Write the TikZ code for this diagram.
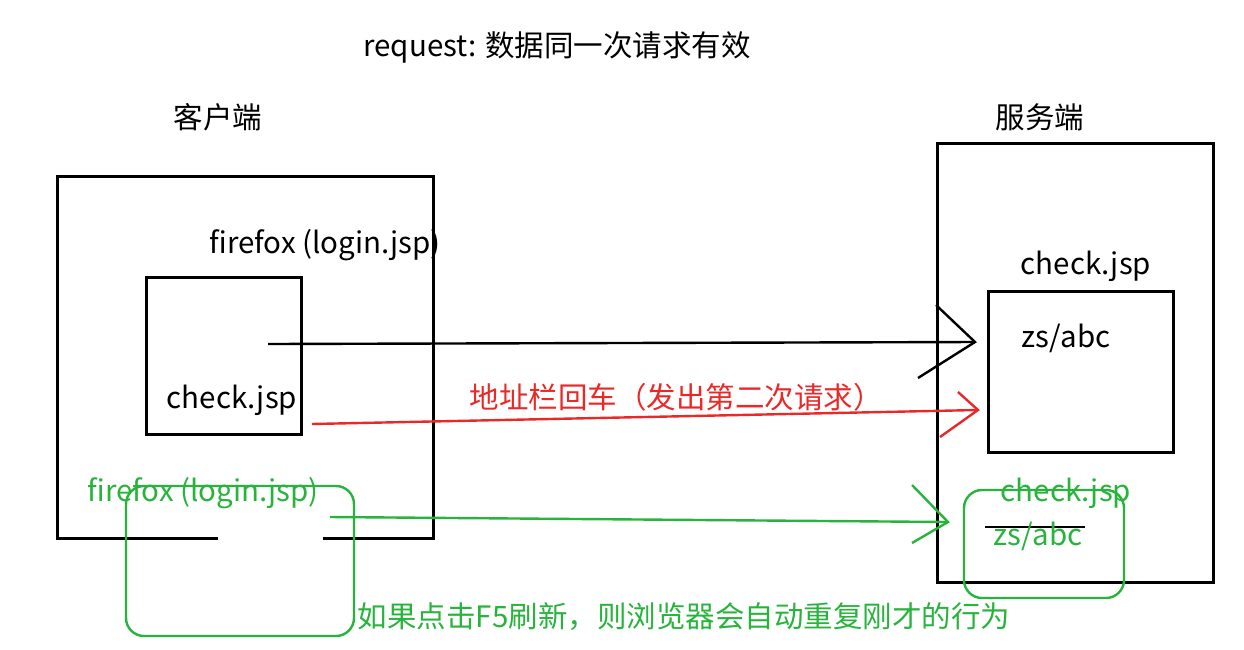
\documentclass[tikz,border=0pt]{standalone}
\usepackage{fontspec}
\setmainfont{Noto Sans CJK SC}
\definecolor{gr}{RGB}{40,180,60}
\definecolor{rd}{RGB}{235,40,40}
\begin{document}
\begin{tikzpicture}[x=1pt,y=-1pt,
  t/.style={font=\fontsize{29.5}{33}\selectfont,inner sep=0pt},
  bx/.style={line width=3pt},
  ln/.style={line width=2.4pt}]
\useasboundingbox (0,0) rectangle (1244,649);
\node[t] (title) at (557,47) {request: 数据同一次请求有效};
\node[t] (cl) at (218,117) {客户端};
\node[t] (sv) at (1040,117) {服务端};
% left box
\draw[bx] (218,538) -- (57,538) -- (57,176) -- (433,176) -- (433,538) -- (323,538);
\node[t] (ff1) at (325,245) {firefox (login.jsp)};
\draw[bx] (146,277) rectangle (301,434);
\node[t] (cj1) at (232,400) {check.jsp};
% right box
\draw[bx] (937,143) rectangle (1213,582);
\node[t] (cj2) at (1086,266) {check.jsp};
\draw[bx] (988,291) rectangle (1173,452);
\node[t] (zs1) at (1066,338) {zs/abc};
% black arrow
\coordinate (a1) at (268,344); \coordinate (a2) at (975,342);
\draw[ln] (a1) -- (a2);
\draw[ln] (936,305) -- (a2) -- (918,378);
% red
\node[t,text=rd] (rt) at (676,397) {地址栏回车（发出第二次请求）};
\coordinate (r1) at (312,424); \coordinate (r2) at (978,410);
\draw[ln,rd] (r1) -- (r2);
\draw[ln,rd] (958,392) -- (r2) -- (940,437);
% green
\node[t,text=gr] (ff2) at (203,493) {firefox (login.jsp)};
\draw[ln,gr,rounded corners=18pt] (126,486) rectangle (354,636);
\coordinate (g1) at (330,517); \coordinate (g2) at (948,522);
\draw[ln,gr] (g1) -- (g2);
\draw[ln,gr] (912,485) -- (g2) -- (912,543);
\node[t,text=gr] (cj3) at (1066,493) {check.jsp};
\draw[ln] (985,527) -- (1085,527);
\node[t,text=gr] (zs2) at (1038,536) {zs/abc};
\draw[ln,gr,rounded corners=18pt] (964,490) rectangle (1124,598);
\node[t,text=gr] (note) at (684,617) {如果点击F5刷新，则浏览器会自动重复刚才的行为};
\end{tikzpicture}
\end{document}
